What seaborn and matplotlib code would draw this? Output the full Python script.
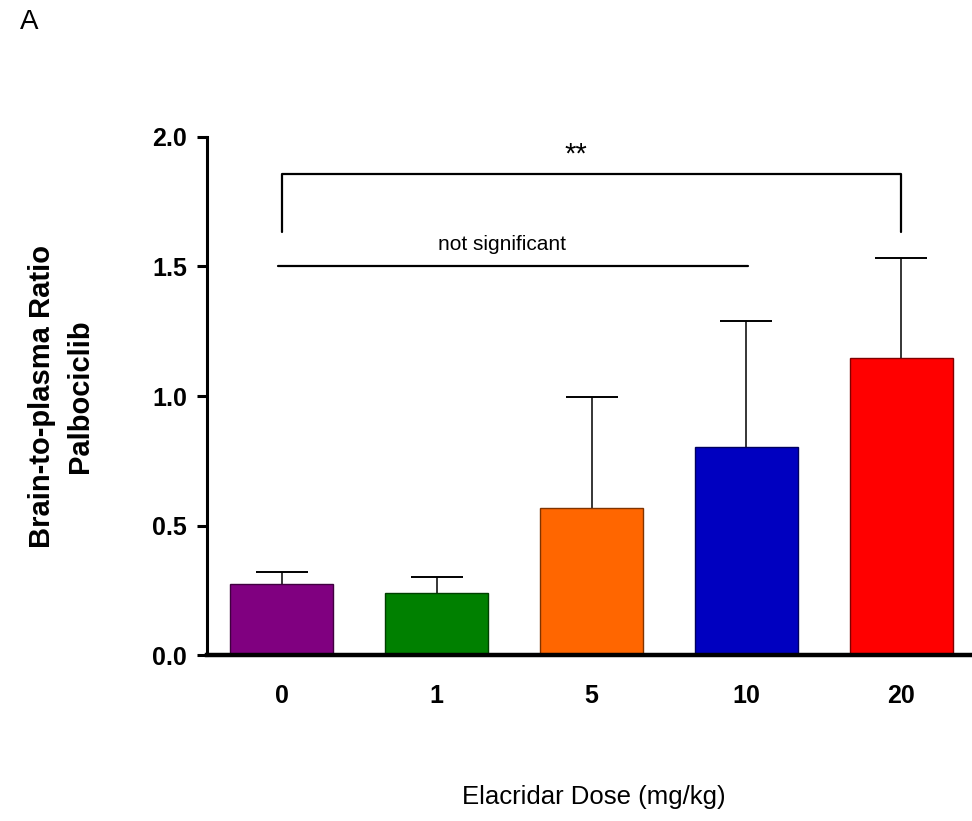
import matplotlib
matplotlib.use("Agg")
import matplotlib.pyplot as plt
import seaborn as sns
import pandas as pd
import numpy as np

# ---- data ----
doses = ["0", "1", "5", "10", "20"]
ratio_mean = [0.273, 0.239, 0.566, 0.803, 1.146]
ratio_err_upper = [0.046, 0.062, 0.432, 0.487, 0.386]
bar_colors = ["#800080", "#008000", "#FF6600", "#0000C0", "#FF0000"]
edge_colors = ["#400040", "#004000", "#803300", "#000060", "#800000"]
y_ticks = [0.0, 0.5, 1.0, 1.5, 2.0]
y_tick_labels = ["0.0", "0.5", "1.0", "1.5", "2.0"]

# significance annotations (group index pairs and heights)
sig_pair = (0, 4)
sig_top = 1.858
sig_drop = 1.635
sig_label = "**"
ns_pair = (0, 3)
ns_level = 1.50
ns_label = "not significant"

sns.set_theme(style="white")
plt.rcParams["font.family"] = ["Liberation Sans", "DejaVu Sans"]
plt.rcParams["text.color"] = "black"

df = pd.DataFrame({"dose": doses, "ratio": ratio_mean})

fig = plt.figure(figsize=(9.72, 8.21), dpi=100)
ax = fig.add_axes([207 / 972, 166 / 821, 765 / 972, 518 / 821])

sns.barplot(data=df, x="dose", y="ratio", hue="dose", order=doses,
            hue_order=doses, palette=bar_colors, width=0.665,
            errorbar=None, legend=False, saturation=1, ax=ax, zorder=2)
for patch, ec in zip(ax.patches, edge_colors):
    patch.set_edgecolor(ec)
    patch.set_linewidth(1.0)

xpos = np.arange(len(doses))
eb = ax.errorbar(xpos, ratio_mean, yerr=[np.zeros(len(doses)), ratio_err_upper],
                 fmt="none", ecolor="black", elinewidth=1.1, capsize=18.7,
                 capthick=1.4, zorder=1)
eb[1][0].set_visible(False)

ax.set_xlim(-0.481, 4.455)
ax.set_ylim(0, 2.0)
ax.set_yticks(y_ticks)
ax.set_yticklabels(y_tick_labels, fontweight="bold", fontsize=18)
ax.set_xticks(xpos)
ax.set_xticklabels(doses, fontweight="bold", fontsize=18)
ax.tick_params(axis="x", length=0, pad=21, labelcolor="black")
ax.tick_params(axis="y", length=7.5, width=2.2, pad=7, color="black",
               labelcolor="black", left=True)

for s in ["top", "right"]:
    ax.spines[s].set_visible(False)
ax.spines["left"].set_linewidth(2.2)
ax.spines["left"].set_color("black")
ax.spines["bottom"].set_linewidth(3.2)
ax.spines["bottom"].set_color("black")

ax.set_xlabel("Elacridar Dose (mg/kg)", fontsize=18.5, color="black")
ax.xaxis.set_label_coords(0.506, -0.251)
ax.set_ylabel("Brain-to-plasma Ratio\nPalbociclib", fontsize=21, fontweight="bold",
              color="black", linespacing=1.45)
ax.yaxis.set_label_coords(-0.148, 0.5)

# significance bracket
x0, x1 = sig_pair
ax.plot([x0, x0, x1, x1], [sig_drop, sig_top, sig_top, sig_drop], color="black",
        lw=1.6, clip_on=False)
ax.text((x0 + x1) / 2 - 0.1, sig_top + 0.02, sig_label, ha="center", va="bottom",
        fontsize=21, color="black")
n0, n1 = ns_pair
ax.plot([n0 - 0.02, n1 + 0.01], [ns_level, ns_level], color="black", lw=1.6)
ax.text((n0 + n1) / 2 - 0.08, ns_level + 0.05, ns_label, ha="center", va="bottom",
        fontsize=15, color="black")

fig.text(20 / 972, 1 - 22 / 821, "A", ha="left", va="center", fontsize=20,
         color="black")

fig.savefig("out.png", dpi=100, facecolor="white")
